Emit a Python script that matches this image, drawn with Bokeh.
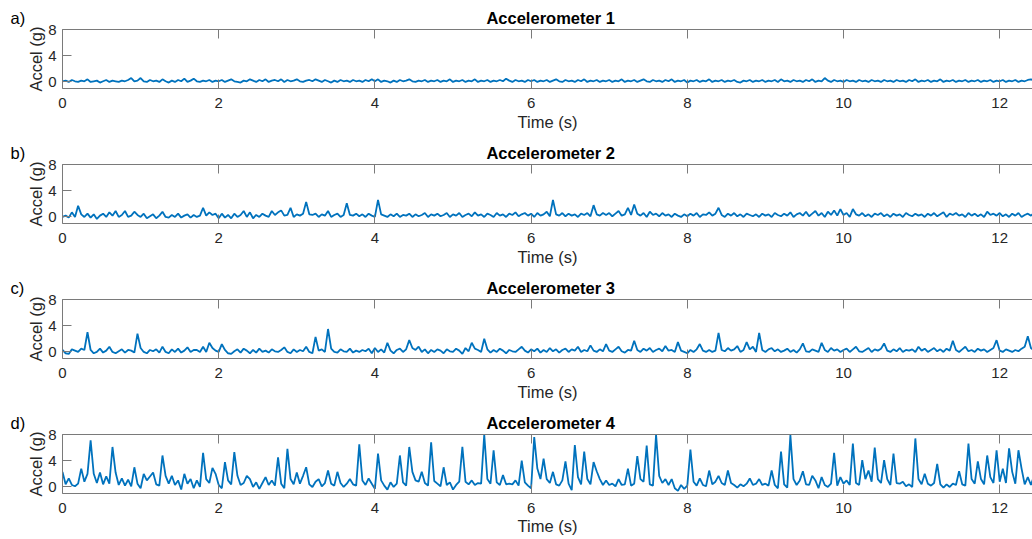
import numpy as np
from bokeh.plotting import figure
from bokeh.layouts import column
from bokeh.models import Range1d, FixedTicker, LinearAxis, Label
from bokeh.embed import file_html
from bokeh.resources import INLINE

# sampling interval of the recorded signals (s)
DT = 0.04

# Accelerometer 1 (g), one row per second
accel_1 = [
    0.1, 0.2, 0.0, 0.3, 0.1, 0.0, 0.2, 0.1, 0.4, 0.0, 0.1, 0.2, -0.1, 0.1, 0.3, 0.0, 0.2, 0.1, 0.0, 0.2, 0.1, 0.3, 0.6, 0.1, 0.2,
    0.6, 0.1, 0.0, 0.3, 0.1, 0.2, 0.0, 0.4, 0.1, -0.1, 0.2, 0.0, 0.3, 0.1, 0.5, 0.0, 0.2, 0.5, 0.1, 0.0, 0.2, 0.1, 0.3, 0.0, 0.2,
    0.1, 0.3, 0.0, 0.2, 0.4, 0.1, 0.0, -0.1, 0.2, 0.1, 0.4, 0.2, 0.0, 0.3, 0.1, 0.4, 0.0, 0.2, 0.3, 0.1, 0.4, 0.0, 0.3, 0.1, 0.2,
    0.4, 0.1, 0.0, 0.2, 0.3, 0.1, 0.4, 0.2, 0.0, 0.3, 0.1, -0.1, 0.2, 0.0, 0.3, 0.1, 0.2, 0.0, 0.3, 0.1, 0.2, 0.0, 0.3, 0.1, 0.4,
    0.1, 0.4, 0.0, 0.2, 0.1, -0.1, 0.2, 0.0, 0.3, 0.1, 0.2, 0.4, 0.1, 0.0, 0.2, 0.1, 0.3, 0.0, 0.2, 0.1, 0.3, 0.0, 0.2, 0.1, 0.4,
    0.0, 0.2, 0.1, 0.3, 0.0, 0.2, 0.1, 0.4, 0.0, 0.2, 0.1, 0.3, 0.0, 0.2, 0.1, 0.3, 0.1, 0.5, 0.2, 0.0, 0.3, 0.1, 0.2, 0.0, 0.3,
    0.1, 0.3, 0.0, 0.2, 0.1, 0.3, 0.0, 0.2, 0.4, 0.1, 0.0, 0.3, 0.1, 0.2, 0.0, 0.3, 0.1, 0.4, 0.0, 0.2, 0.1, 0.3, 0.0, 0.2, 0.1,
    0.3, 0.0, 0.2, 0.1, 0.4, 0.0, 0.2, 0.1, 0.3, 0.0, 0.2, 0.4, 0.1, 0.0, 0.3, 0.1, 0.2, 0.0, 0.3, 0.1, 0.4, 0.0, 0.2, 0.1, 0.3,
    -0.1, 0.2, 0.1, 0.3, 0.0, 0.2, 0.1, 0.4, 0.0, 0.2, 0.1, 0.3, 0.0, 0.2, 0.1, 0.3, 0.0, -0.1, 0.2, 0.1, 0.3, 0.0, 0.2, 0.1, 0.3,
    0.0, 0.2, 0.1, 0.3, 0.0, 0.4, 0.1, 0.2, 0.0, 0.3, 0.1, 0.2, 0.0, 0.3, 0.1, 0.4, 0.0, 0.2, 0.1, 0.6, 0.2, 0.0, 0.3, 0.1, 0.2,
    0.0, 0.3, 0.1, 0.2, 0.0, 0.3, 0.1, 0.2, 0.0, 0.3, 0.1, 0.2, 0.0, 0.3, 0.1, 0.2, 0.0, 0.3, 0.1, 0.2, 0.0, 0.3, 0.1, 0.4, 0.0,
    0.2, 0.1, 0.3, 0.0, 0.2, 0.1, 0.4, 0.0, 0.2, 0.1, 0.3, 0.0, 0.2, 0.1, 0.3, 0.0, 0.2, 0.1, 0.3, 0.0, 0.2, 0.1, 0.3, 0.0, 0.2,
    0.1, 0.3, 0.0, 0.2, 0.1, 0.3, 0.0, 0.2, 0.1, 0.3, 0.4, 0.2, 0.3,
]

# Accelerometer 2 (g)
accel_2 = [
    0.0, 0.2, -0.1, 0.7, 0.0, 1.7, 0.4, 0.0, 0.5, -0.1, 0.4, -0.3, 0.2, 0.5, 0.0, 0.7, 0.2, 0.9, 0.0, 0.3, 0.9, 0.0, 0.2, 0.8, 0.3,
    0.0, 0.5, -0.2, 0.1, 0.4, -0.2, 0.2, 0.8, 0.0, -0.1, 0.3, 0.0, 0.5, -0.1, 0.2, 0.4, -0.1, 0.3, 0.0, 0.2, 1.4, 0.2, 0.7, 0.3, 0.5,
    -0.2, 0.5, -0.1, 0.3, -0.2, 0.5, 0.0, 0.3, 0.9, 0.0, 0.7, -0.2, 0.3, 0.0, 0.5, 0.2, 0.0, 0.9, 0.3, 0.7, 1.0, 0.2, 0.3, 1.4, 0.0,
    0.4, 0.2, 0.5, 2.3, 0.4, 0.3, 0.5, 0.0, 0.4, 0.2, 0.9, 0.0, 0.3, 0.5, 0.0, 0.3, 2.1, 0.3, 0.2, 0.5, 0.1, 0.4, 0.0, 0.5, 0.2,
    0.0, 2.6, 0.4, 0.2, 0.0, 0.4, 0.1, 0.5, 0.0, 0.3, 0.2, 0.5, 0.0, 0.4, 0.1, 0.3, 0.6, 0.0, 0.4, 0.2, 0.5, 0.1, 0.3, 0.6, 0.0,
    0.4, 0.2, 0.6, 0.0, 0.3, 0.5, 0.1, 0.7, 0.2, 0.4, 0.0, 0.5, 0.3, 0.0, 0.6, 0.2, 0.4, 0.0, 0.5, 0.3, 0.7, 0.1, 0.4, 0.6, 0.2,
    0.5, 0.0, 0.6, 0.2, 0.4, 0.8, 0.1, 2.6, 0.4, 0.2, 0.6, 0.1, 0.5, 0.2, 0.4, 0.0, 0.5, 0.3, 0.6, 0.1, 1.8, 0.4, 0.2, 0.6, 0.3,
    0.6, 0.1, 0.5, 0.9, 0.2, 0.4, 1.4, 0.3, 1.9, 0.5, 0.2, 0.6, 0.0, 0.8, 0.3, 0.5, 0.1, 0.6, 0.2, 0.4, 0.0, 0.5, 0.2, 0.0, 0.4,
    0.1, 0.5, 0.2, 0.6, 0.0, 0.4, 0.3, 0.7, 0.2, 0.5, 1.4, 0.3, 0.0, 0.5, 0.2, 0.6, 0.1, 0.4, 0.0, 0.5, 0.3, 0.1, 0.4, 0.0, 0.5,
    0.2, 0.4, 0.0, 0.6, 0.3, 0.1, 0.5, 0.2, 0.7, 0.0, 0.4, 0.6, 0.2, 0.8, 0.1, 0.5, 0.9, 0.2, 0.6, 0.0, 0.8, 0.3, 1.0, 0.2, 1.2,
    0.3, 0.6, 0.0, 1.2, 0.4, 0.2, 0.6, 0.1, 0.4, 0.0, 0.5, 0.3, 0.6, 0.1, 0.4, 0.0, 0.5, 0.2, 0.4, 0.0, 0.6, 0.3, 0.1, 0.5, 0.2,
    0.4, 0.0, 0.5, 0.2, 0.6, 0.1, 0.4, 0.7, 0.0, 0.5, 0.3, 0.6, 0.2, 0.4, 0.0, 0.6, 0.2, 0.5, 0.1, 0.4, 0.0, 0.8, 0.3, 0.5, 0.2,
    0.6, 0.1, 0.4, 0.0, 0.5, 0.2, 0.6, 0.0, 0.3, 0.5, 0.2, 0.6, 0.4,
]

# Accelerometer 3 (g)
accel_3 = [
    0.3, -0.2, -0.3, 0.4, 0.2, 0.0, 0.5, 0.3, 3.0, 0.3, -0.2, 0.0, 0.5, -0.1, 0.2, 0.8, 0.0, -0.2, 0.1, 0.4, -0.1, 0.3, 0.2, -0.1, 2.8,
    0.6, 0.0, -0.2, 0.3, 0.1, 0.4, -0.1, 0.8, 0.0, -0.2, 0.4, 0.0, 0.5, -0.1, 0.2, 0.7, 0.0, 0.3, 0.3, 0.0, 0.8, 0.0, 1.4, 0.6, 0.2,
    0.0, 1.2, 0.3, -0.2, -0.3, 0.1, 0.4, -0.1, 0.5, 0.2, -0.2, 0.3, -0.1, 0.5, 0.0, 0.2, -0.1, 0.4, 0.1, 0.0, 0.3, 0.7, 0.0, -0.2, 0.4,
    0.0, 0.3, 0.1, 0.8, 0.0, -0.2, 2.3, 0.2, 0.4, 0.0, 3.5, 0.5, 0.0, -0.1, 0.4, 0.1, 0.0, 0.5, -0.1, 0.2, 0.0, 0.3, 0.1, 0.5, -0.2,
    0.6, 0.0, 0.4, -0.1, 1.4, 0.2, -0.2, 0.3, 0.5, 0.0, 0.4, 1.8, 0.6, 0.3, 0.8, 0.0, 0.4, -0.2, 0.3, 0.0, 0.4, 0.2, -0.2, 0.4, 0.1,
    0.0, 0.5, 0.2, -0.3, 0.6, 0.1, 1.4, 0.5, 0.3, 0.0, 2.0, 0.4, -0.1, 0.3, 0.0, 0.5, 0.2, -0.2, 0.3, 0.1, 0.0, 0.4, 0.8, 0.2, -0.1,
    0.4, 0.1, 0.5, -0.1, 0.3, 0.0, 0.6, 0.1, 0.4, -0.1, 0.3, 0.5, 0.0, 0.4, 0.2, 0.8, 0.0, 0.3, 0.1, 1.0, 0.2, 0.0, 0.4, 0.1, 1.2,
    0.2, 0.0, 0.4, 0.8, 0.1, -0.1, 0.3, 0.2, 1.7, 0.3, 0.0, 0.5, 0.2, 0.6, 0.0, 0.3, 0.5, 0.1, 0.9, 0.2, 0.3, 0.0, 1.5, 0.2, 0.0,
    -0.2, 0.3, 0.0, 0.4, 1.2, 0.2, 0.0, 0.3, 0.0, 0.2, 2.9, 0.3, 0.1, 0.6, 0.2, 0.4, 0.9, 0.0, 0.3, 1.5, 0.4, 0.8, 0.0, 2.9, 0.3,
    0.0, 0.4, 0.6, 0.1, 0.4, 0.0, 0.2, 0.5, 0.0, 0.3, -0.1, 0.4, 1.3, 0.1, 0.0, 0.4, 0.2, 0.0, 1.4, 0.3, 0.0, 0.6, 0.2, 0.4, 0.0,
    0.3, 0.5, 0.0, 0.4, 0.8, 0.1, 0.0, 0.3, 0.6, 0.0, 0.4, 0.2, 0.5, 1.3, 0.2, 0.0, 0.4, 0.1, 0.6, 0.0, 0.3, 0.2, 0.4, 0.0, 0.8,
    0.2, 0.5, 0.0, 0.3, 0.6, 0.1, 0.4, 0.0, 0.5, 0.2, 1.7, 0.3, 0.0, 0.4, 0.8, 0.1, 0.3, 0.0, 0.5, 0.2, 0.4, 0.0, 0.3, 0.6, 1.8,
    0.2, 0.0, 0.4, 0.2, 0.0, 0.3, 0.1, 0.5, 0.8, 2.4, 0.6, 0.2, 0.4,
]

# Accelerometer 4 (g)
accel_4 = [
    2.3, 0.4, 1.3, 0.3, 0.1, 0.5, 2.8, 0.8, 2.0, 7.1, 2.0, 0.6, 2.2, 0.4, 1.6, 0.5, 6.1, 2.2, 0.3, 1.3, 0.2, 1.1, 0.1, 3.0, 0.5,
    -0.2, 2.0, 1.0, 1.6, 2.2, 0.4, 0.2, 4.8, 1.7, 0.5, 1.7, 0.3, 1.0, -0.4, 2.0, 0.5, 1.2, -0.2, 1.0, 0.0, 5.2, 1.2, 0.6, 2.9, 2.0,
    0.3, -0.2, 3.8, 1.0, 0.4, 5.3, 1.7, 0.3, 0.6, 1.7, 1.2, 0.0, 0.7, -0.3, 0.6, 1.5, 0.3, 1.0, 0.2, 4.5, 0.5, -0.2, 5.8, 1.2, 0.4,
    2.2, 0.5, 1.7, 3.0, 0.4, 0.0, 0.8, 1.2, 0.1, 0.6, 2.5, 0.5, 0.2, 2.3, 0.6, 0.0, 0.5, 1.2, 0.4, 0.2, 6.5, 1.0, 0.3, 1.3, 0.5,
    -0.3, 5.1, 1.0, 0.2, -0.4, 0.7, 0.0, 0.5, 4.8, 0.7, 0.2, 6.1, 2.3, 1.0, 0.8, 2.3, 0.6, 0.2, 6.8, 0.9, 0.5, 0.1, 3.0, 0.3, 0.7,
    -0.4, 0.3, 0.8, 6.1, 0.8, 0.4, 1.0, 0.3, 0.6, 0.5, 8.0, 1.2, 0.5, 5.6, 0.7, 0.3, 1.8, 0.4, 0.5, 0.4, 1.0, 0.2, 4.0, 0.7, 0.2,
    -0.2, 7.6, 2.8, 1.2, 4.3, 1.2, 0.6, 2.3, 0.4, 0.2, 1.0, 3.9, 0.5, -0.5, 6.4, 1.5, 0.4, 5.4, 1.2, 0.4, 3.8, 2.4, 1.2, 0.3, 1.0,
    0.3, 0.5, 0.1, 1.2, 0.3, 0.4, 2.8, 0.2, 0.5, 4.7, 1.2, 0.8, 6.3, 0.4, 0.2, 8.0, 1.7, 0.6, 1.2, 0.3, 1.2, -0.2, -0.6, 0.3, -0.3,
    0.2, 5.7, 0.8, 0.2, 1.3, 0.3, 0.1, 2.5, 0.4, 0.8, 1.7, 0.6, 0.3, 2.5, 0.6, 0.3, -0.1, 0.4, 0.1, 0.5, 1.3, 0.3, 0.5, 1.2, 0.3,
    0.5, 0.2, 2.5, 0.3, -0.2, 5.4, 0.4, -0.1, 7.9, 1.2, 0.3, 1.0, 2.4, 0.4, 0.3, 1.7, 1.0, -0.2, 1.5, 0.3, 0.0, 0.5, 5.2, 0.2, 1.5,
    0.5, 1.0, 0.3, 6.6, 0.6, 0.3, 4.1, 1.2, 2.5, 0.8, 6.0, 1.2, 0.6, 4.1, 1.2, 0.3, 5.1, 0.6, 0.5, 0.8, 0.1, 0.4, 0.0, 7.4, 1.2,
    0.4, 2.0, 0.5, 0.2, 0.6, 3.5, 0.4, -0.1, 0.4, 0.0, 0.5, 0.3, 2.4, 0.4, 0.2, 6.6, 1.2, 0.5, 3.9, 1.2, 0.4, 4.8, 1.5, 0.6, 5.6,
    0.8, 2.8, 0.6, 5.9, 2.3, 0.5, 5.6, 2.8, 0.4, 1.5, 0.3, 1.7, 1.0,
]

series = [accel_1, accel_2, accel_3, accel_4]
titles = ["Accelerometer 1", "Accelerometer 2", "Accelerometer 3", "Accelerometer 4"]
tags = ["a)", "b)", "c)", "d)"]
x_ticks = [0, 2, 4, 6, 8, 10, 12]
y_ticks = [0, 4, 8]
x_label = "Time (s)"
y_label = "Accel (g)"

FONT = "Liberation Sans"
AX_COLOR = "#7a7a7a"
TXT_COLOR = "#262626"
LINE_COLOR = "#0072BD"
W = 1032
LEFT = 62
TOP = 29
FRAME_H = 59
X_END = 12.42
Y_MIN, Y_MAX = -1, 8
PX_PER_X = (W - LEFT) / X_END
PX_PER_Y = FRAME_H / (Y_MAX - Y_MIN)
TEXT_ROW = 17.5  # pixel row (from the panel top) of the tag / title line

plots = []
for i, (vals, ttl, tag) in enumerate(zip(series, titles, tags)):
    last = i == len(series) - 1
    h = 134 if last else 135
    bot_b = h - TOP - FRAME_H
    p = figure(width=W, height=h, x_range=Range1d(0, X_END), y_range=Range1d(Y_MIN, Y_MAX),
               output_backend="svg", toolbar_location=None, title=None,
               min_border_left=LEFT, min_border_right=0, min_border_top=TOP,
               min_border_bottom=bot_b, x_axis_label=x_label, y_axis_label=y_label)
    p.outline_line_color = None
    p.grid.visible = False
    p.background_fill_color = "white"
    p.border_fill_color = "white"

    t = np.arange(len(vals)) * DT
    p.line(t, vals, line_color=LINE_COLOR, line_width=1.8)

    bottom_axis = p.below[0]
    left_axis = p.left[0]
    top_axis = LinearAxis(ticker=FixedTicker(ticks=x_ticks))
    p.add_layout(top_axis, "above")

    for ax in [bottom_axis, left_axis, top_axis]:
        ax.axis_line_color = AX_COLOR
        ax.axis_line_width = 1
        ax.major_tick_line_color = AX_COLOR
        ax.minor_tick_line_color = None
        ax.major_tick_in = 9
        ax.major_tick_out = 0
        ax.major_label_text_font = FONT
        ax.major_label_text_font_size = "15px"
        ax.major_label_text_color = TXT_COLOR
        ax.axis_label_text_font = FONT
        ax.axis_label_text_font_size = "16.5px"
        ax.axis_label_text_font_style = "normal"
        ax.axis_label_text_color = TXT_COLOR
    top_axis.major_label_text_color = None
    top_axis.major_label_standoff = 0
    bottom_axis.ticker = FixedTicker(ticks=x_ticks)
    left_axis.ticker = FixedTicker(ticks=y_ticks)
    bottom_axis.major_label_standoff = 9
    bottom_axis.axis_label_standoff = 1 if last else 2
    left_axis.major_label_standoff = 6
    left_axis.axis_label_standoff = 0

    # tag and title sit above the frame; placed in side panels so they are not clipped
    text_y = Y_MAX + (TOP - TEXT_ROW) / PX_PER_Y
    p.add_layout(Label(x=(10 - LEFT) / PX_PER_X, y=text_y, x_units="data", y_units="data",
                       text=tag, text_align="left", text_baseline="middle", text_font=FONT,
                       text_font_size="16.5px", text_color="black"), "left")
    p.add_layout(Label(x=X_END / 2 + 0.04, y=text_y, x_units="data", y_units="data", text=ttl,
                       text_align="center", text_baseline="middle", text_font=FONT,
                       text_font_size="16.5px", text_font_style="bold", text_color="black"), "above")
    plots.append(p)

layout = column(*plots, spacing=0)
open("out.html", "w").write(file_html(layout, INLINE))
